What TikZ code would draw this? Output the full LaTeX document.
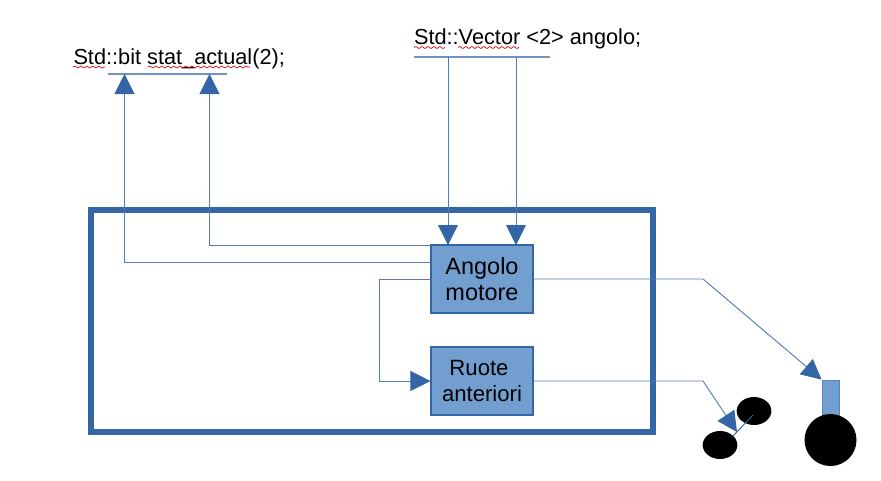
\documentclass[tikz,border=0pt]{standalone}
\usepackage{fontspec}
\setmainfont{Liberation Sans}
\usetikzlibrary{arrows.meta,decorations.pathmorphing,shapes.geometric}

\definecolor{bordo}{RGB}{52,101,164}
\definecolor{riempi}{RGB}{114,159,207}

\tikzset{every picture/.style={line width=0.75pt},
	blocco/.style={draw=bordo,fill=riempi,line width=0.8pt,minimum width=76.5pt,minimum height=51pt,inner sep=0pt,align=center},
	testo/.style={anchor=base west,inner sep=0pt,font=\fontsize{16.3pt}{19.5pt}\selectfont},
	filo/.style={draw=bordo!85,line width=0.7pt},
	freccia/.style={filo,-{Triangle[length=15pt,width=15pt,color=bordo,fill=bordo]}},
	barra/.style={draw=bordo!70,line width=0.9pt},
	ondina/.style={draw=red!80!black,line width=0.5pt,decorate,decoration={snake,amplitude=0.75pt,segment length=4.5pt}},
	ruota/.style={draw=none,fill=black,inner sep=0pt}}

\begin{document}
\begin{tikzpicture}[x=0.75pt,y=0.75pt,yscale=-1,xscale=1]
	\useasboundingbox (0,0) rectangle (881,480);

	% Contenitore
	\draw [bordo,line width=4.6pt] (91,210) rectangle (653,432);

	% Blocchi
	\node [blocco,font=\fontsize{17.6pt}{19.5pt}\selectfont] (angolo) at (482,279) {Angolo\\motore};
	\node [blocco,font=\fontsize{16.6pt}{19pt}\selectfont] (ruote) at (482,381) {Ruote\hspace{4.5pt}\mbox{}\\anteriori};

	% Testi
	\node [testo] (stat) at (73,64) {Std::bit stat\_actual(2);};
	\node [testo] (vettore) at (413.5,44) {Std::Vector <2> angolo;};

	% Sottolineature
	\draw [ondina] (73,67) -- (105,67);
	\draw [ondina] (148,67) -- (250,67);
	\draw [ondina] (414,47.5) -- (445,47.5);
	\draw [ondina] (458,47.5) -- (519,47.5);

	% Barre
	\coordinate (statA) at (108,74);
	\coordinate (statB) at (227,74);
	\coordinate (vetA) at (414,57);
	\coordinate (vetB) at (550,57);
	\draw [barra] (statA) -- (statB);
	\draw [barra] (vetA) -- (vetB);

	% Ruote
	\node [draw=bordo!80,fill=riempi,line width=0.7pt,minimum width=12.75pt,minimum height=30pt,inner sep=0pt] (asta) at (830.5,400) {};
	\node [ruota,circle,minimum size=39pt] (grande) at (830.5,440) {};
	\node [ruota,ellipse,minimum width=26pt,minimum height=21pt] (ruotaA) at (754,411) {};
	\node [ruota,ellipse,minimum width=26pt,minimum height=21pt] (ruotaB) at (720,445) {};
	\coordinate (assA) at (753,415);
	\coordinate (assB) at (733,436);
	\draw [draw=bordo,line width=0.7pt] (assA) -- (assB);

	% Connessioni
	\draw [freccia] (448,57) -- (448,245);
	\draw [freccia] (516,57) -- (516,245);
	\draw [freccia] (431,262) -| (124.5,74);
	\draw [freccia] (431,245) -| (209.5,74);
	\draw [freccia] (431,279) -| (379.5,381) -- (ruote.west);
	\coordinate (gomitoA) at (703,279);
	\coordinate (gomitoB) at (703,381);
	\draw [freccia] (533,279) -- (gomitoA) -- (asta.north west);
	\draw [freccia] (ruote.east) -- (gomitoB) -- (737,432);
\end{tikzpicture}
\end{document}
